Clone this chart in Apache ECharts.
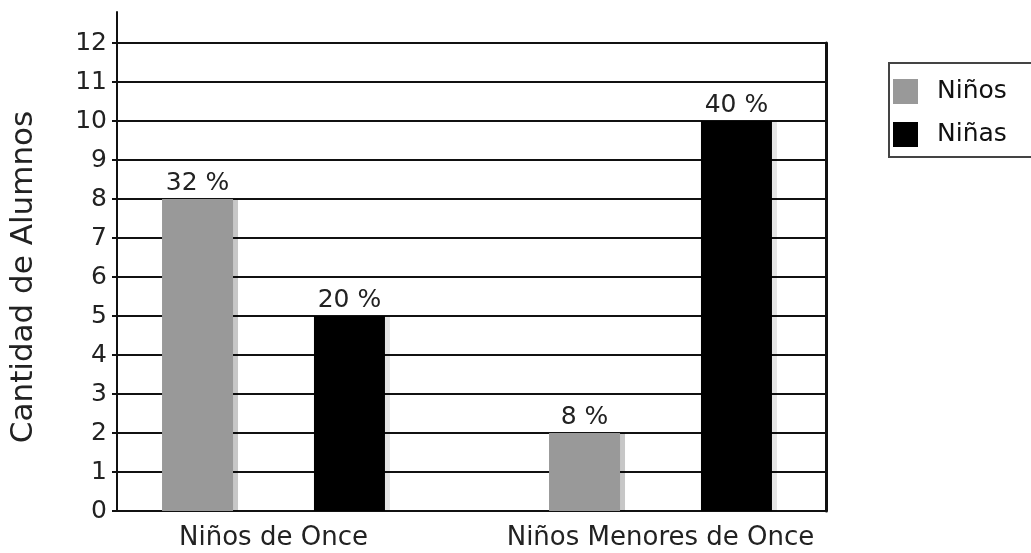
<!DOCTYPE html>
<html>
<head>
<meta charset="utf-8">
<script src="https://cdn.jsdelivr.net/npm/echarts@6/dist/echarts.min.js"></script>
<style>
  html, body { margin: 0; padding: 0; background: #fff; }
  #main { width: 1031px; height: 553px; }
</style>
</head>
<body>
<div id="main"></div>
<script>
// datos del grafico
const categorias = ['Niños de Once', 'Niños Menores de Once'];
const ninos = [8, 2];
const ninas = [5, 10];
const total = ninos.concat(ninas).reduce((a, b) => a + b, 0);

const fuente = '"DejaVu Sans", Arial, sans-serif';

const chart = echarts.init(document.getElementById('main'));

const etiqueta = {
  show: true,
  position: 'top',
  distance: 3,
  fontSize: 25,
  fontFamily: fuente,
  color: '#222',
  formatter: p => Math.round(p.value / total * 100) + ' %'
};

const option = {
  animation: false,
  backgroundColor: '#fff',
  textStyle: { fontFamily: fuente },
  grid: [
    { left: 117, right: 205, top: 43, bottom: 42 },  // lineas
    { left: 80, right: 177, top: 43, bottom: 42 },   // barras
    { left: 117, right: 205, top: 12, bottom: 42 }   // eje izquierdo
  ],
  legend: {
    data: ['Niños', 'Niñas'],
    orient: 'vertical',
    left: 889,
    top: 63,
    icon: 'rect',
    itemWidth: 25,
    itemHeight: 25,
    itemGap: 18,
    padding: [16, 60, 10, 4],
    borderColor: '#444',
    borderWidth: 2,
    textStyle: { fontSize: 25, color: '#111', fontFamily: fuente, padding: [0, 0, 0, 14] }
  },
  xAxis: [
    { gridIndex: 0, type: 'category', data: categorias, show: false },
    {
      gridIndex: 1,
      type: 'category',
      data: categorias,
      axisLine: { show: false },
      axisTick: { show: false },
      axisLabel: { interval: 0, hideOverlap: false, fontSize: 26, color: '#222', margin: 14, fontFamily: fuente }
    },
    { gridIndex: 2, type: 'value', show: false }
  ],
  yAxis: [
    {
      gridIndex: 0,
      type: 'value',
      min: 0,
      max: 12,
      interval: 1,
      name: 'Cantidad de Alumnos',
      nameLocation: 'middle',
      nameGap: 80,
      nameTextStyle: { fontSize: 31, color: '#222', fontFamily: fuente },
      axisLine: { show: false },
      axisTick: { show: true, length: 7, lineStyle: { color: '#111', width: 2 } },
      axisLabel: { fontSize: 25, color: '#222', margin: 12, fontFamily: fuente },
      splitLine: { show: true, lineStyle: { color: '#111', width: 2 } }
    },
    {
      gridIndex: 0,
      type: 'value',
      position: 'right',
      min: 0,
      max: 12,
      axisLine: { show: true, lineStyle: { color: '#111', width: 3 } },
      axisTick: { show: false },
      axisLabel: { show: false },
      splitLine: { show: false }
    },
    { gridIndex: 1, type: 'value', min: 0, max: 12, show: false },
    {
      gridIndex: 2,
      type: 'value',
      min: 0,
      max: 1,
      axisLine: { show: true, lineStyle: { color: '#111', width: 2 } },
      axisTick: { show: false },
      axisLabel: { show: false },
      splitLine: { show: false }
    }
  ],
  series: [
    {
      name: 'Niños',
      type: 'bar',
      xAxisIndex: 1,
      yAxisIndex: 2,
      data: ninos,
      barWidth: 71,
      barGap: '114%',
      itemStyle: {
        color: '#999999',
        shadowColor: 'rgba(0,0,0,0.22)',
        shadowOffsetX: 5,
        shadowBlur: 0
      },
      label: etiqueta
    },
    {
      name: 'Niñas',
      type: 'bar',
      xAxisIndex: 1,
      yAxisIndex: 2,
      data: ninas,
      barWidth: 71,
      barGap: '114%',
      itemStyle: {
        color: '#000000',
        shadowColor: 'rgba(0,0,0,0.1)',
        shadowOffsetX: 5,
        shadowBlur: 0
      },
      label: etiqueta
    }
  ]
};

chart.setOption(option);
</script>
</body>
</html>
